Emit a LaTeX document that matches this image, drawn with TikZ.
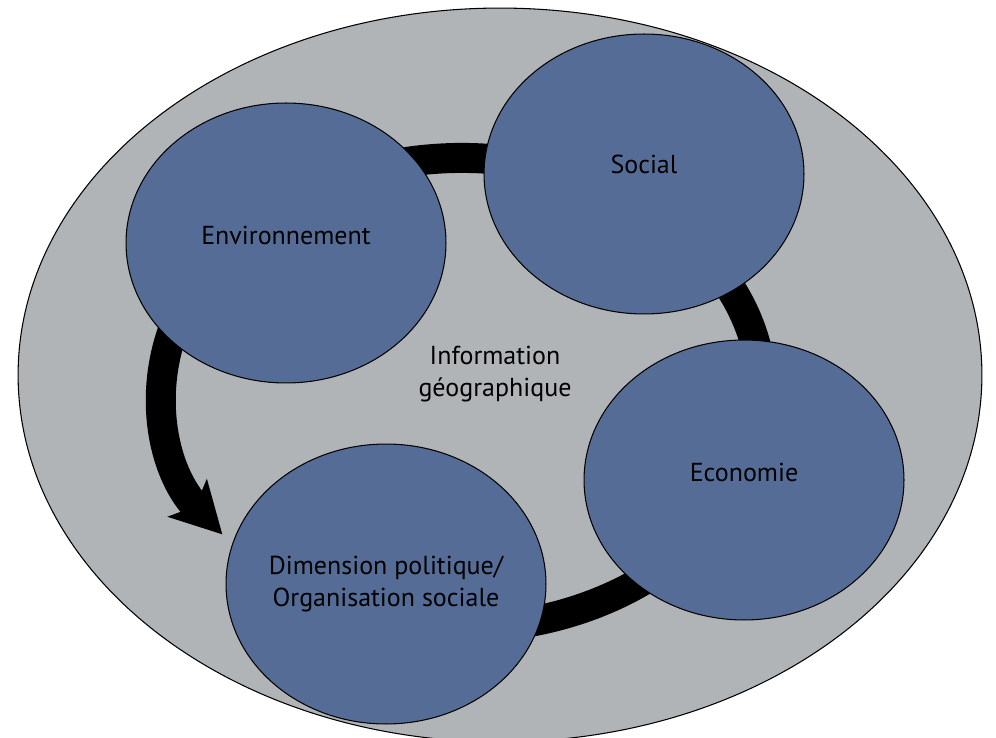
\documentclass[tikz,border=0pt]{standalone}
\usepackage{fontspec}
\setmainfont{PT Sans}
\usetikzlibrary{arrows.meta,shapes.geometric}
\definecolor{fondgris}{RGB}{177,180,183}
\definecolor{bleubulle}{RGB}{85,109,150}

\begin{document}
\begin{tikzpicture}[
  x=0.02cm, y=0.02cm,
  cadre/.style={ellipse,draw,fill=fondgris,line width=0.6pt,
    minimum width=19.28cm,minimum height=14.68cm,inner sep=0pt},
  bulle/.style={ellipse,draw,fill=bleubulle,line width=0.6pt,
    minimum width=6.4cm,minimum height=5.6cm,inner sep=0pt},
  texte/.style={align=center,font=\fontsize{14.8}{18}\selectfont},
  anneau/.style={line width=0.6cm,
    -{Stealth[length=1cm,width=1.06cm,inset=0.22cm]}}
  ]
  \useasboundingbox (0,0) rectangle (996,737);
  \node [cadre] (GEO) at (500,362) {};

  % cycle
  \coordinate (C) at (462,344);
  \draw [anneau] (C) ++(250:300 and 235)
    arc [start angle=250,end angle=577,x radius=300,y radius=235];

  \node [bulle,label={[texte,yshift=4.5pt]center:Environnement}] (ENV) at (286,494) {};
  \node [bulle,label={[texte,yshift=5.7pt]center:Social}] (SOC) at (644,563) {};
  \node [bulle,label={[texte,yshift=4.5pt]center:Economie}] (ECO) at (744,257) {};
  \node [bulle,label={[texte]center:Dimension politique/\\Organisation sociale}] (POL) at (386,153) {};

  \node [texte] (INF) at (495,363) {Information\\géographique};
\end{tikzpicture}
\end{document}
